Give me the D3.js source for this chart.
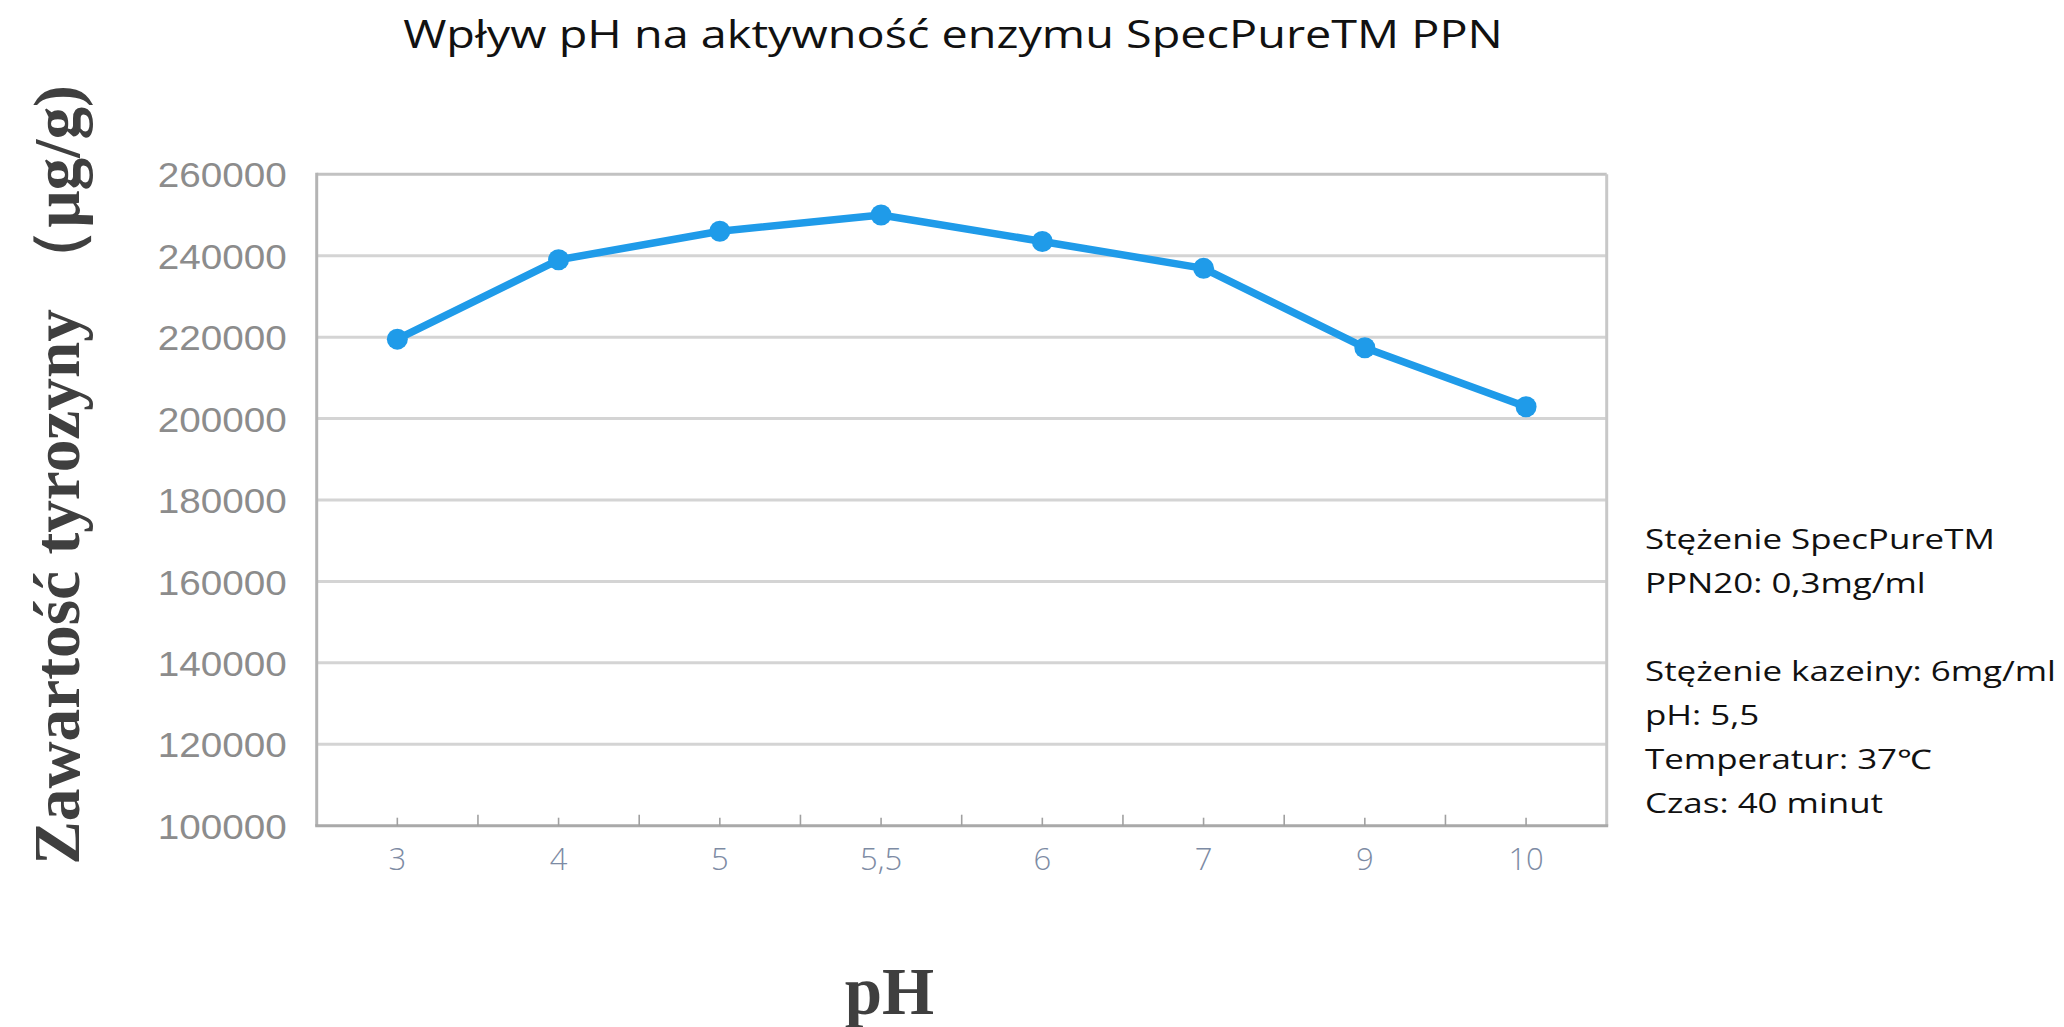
<!DOCTYPE html>
<html>
<head>
<meta charset="utf-8">
<script src="https://cdn.jsdelivr.net/npm/d3@7"></script>
<style>
  html, body { margin: 0; padding: 0; background: #ffffff; }
  svg { display: block; }
</style>
</head>
<body>
<svg id="chart" width="2064" height="1027"></svg>
<script>
// ---- data ----
const categories = ["3", "4", "5", "5,5", "6", "7", "9", "10"];
const values = [219500, 239000, 246000, 250000, 243500, 236900, 217400, 202900];
const yTicks = [100000, 120000, 140000, 160000, 180000, 200000, 220000, 240000, 260000];
const titleText = "Wpływ pH na aktywność enzymu SpecPureTM PPN";
const yTitleText = "Zawartość tyrozyny （μg/g)";
const xTitleText = "pH";
const noteLines = [
  "Stężenie SpecPureTM",
  "PPN20: 0,3mg/ml",
  "",
  "Stężenie kazeiny: 6mg/ml",
  "pH: 5,5",
  "Temperatur: 37℃",
  "Czas: 40 minut"
];

// ---- layout ----
const svg = d3.select("#chart");
const plot = { left: 316.7, right: 1606.7, top: 174.3, bottom: 825.7 };

const x = d3.scaleBand().domain(categories).range([plot.left, plot.right]).paddingInner(0).paddingOuter(0);
const xc = d => x(d) + x.bandwidth() / 2;
const y = d3.scaleLinear().domain([100000, 260000]).range([plot.bottom, plot.top]);

// gridlines
svg.append("g").selectAll("line").data(yTicks.filter(t => t > 100000 && t < 260000)).join("line")
  .attr("x1", plot.left).attr("x2", plot.right)
  .attr("y1", d => y(d)).attr("y2", d => y(d))
  .attr("stroke", "#d4d4d4").attr("stroke-width", 3);

// frame: top and right
svg.append("line").attr("x1", plot.left).attr("x2", plot.right).attr("y1", y(260000)).attr("y2", y(260000))
  .attr("stroke", "#c2c2c2").attr("stroke-width", 3);
svg.append("line").attr("x1", plot.right).attr("x2", plot.right).attr("y1", plot.top).attr("y2", plot.bottom)
  .attr("stroke", "#c8c8c8").attr("stroke-width", 3);
// left axis line
svg.append("line").attr("x1", plot.left).attr("x2", plot.left).attr("y1", plot.top - 1.5).attr("y2", plot.bottom)
  .attr("stroke", "#b4b4b4").attr("stroke-width", 3);

// y axis labels via d3 axis
const yAxis = svg.append("g").attr("transform", `translate(${plot.left - 30},0)`)
  .call(d3.axisLeft(y).tickValues(yTicks).tickSize(0).tickPadding(0).tickFormat(d3.format("d")));
yAxis.select(".domain").remove();
yAxis.selectAll("text")
  .attr("font-family", "'Liberation Sans', Arial, sans-serif")
  .attr("font-size", 35)
  .attr("fill", "#8c8c8c")
  .attr("dy", "0.36em")
  .attr("textLength", 129).attr("lengthAdjust", "spacingAndGlyphs");

// bottom axis line
svg.append("line").attr("x1", plot.left - 1.5).attr("x2", plot.right + 1.5).attr("y1", plot.bottom).attr("y2", plot.bottom)
  .attr("stroke", "#a9a9a9").attr("stroke-width", 3);

// ticks: short at category centres, taller at inner category boundaries
svg.append("g").selectAll("line").data(categories).join("line")
  .attr("x1", d => xc(d)).attr("x2", d => xc(d))
  .attr("y1", plot.bottom).attr("y2", plot.bottom - 8)
  .attr("stroke", "#a0a0a0").attr("stroke-width", 1.6);
svg.append("g").selectAll("line").data(categories.slice(1)).join("line")
  .attr("x1", d => x(d)).attr("x2", d => x(d))
  .attr("y1", plot.bottom).attr("y2", plot.bottom - 11)
  .attr("stroke", "#a0a0a0").attr("stroke-width", 1.6);

// x labels via d3 axis
const xAxis = svg.append("g").attr("transform", `translate(0,${plot.bottom})`)
  .call(d3.axisBottom(x).tickSize(0).tickPadding(0));
xAxis.select(".domain").remove();
xAxis.selectAll("text")
  .attr("y", 44).attr("dy", 0)
  .attr("font-family", "'Open Sans', sans-serif")
  .attr("font-weight", 300)
  .attr("font-size", 31)
  .attr("fill", "#7d8ba4");

// line + markers
const pts = categories.map((c, i) => ({ c, v: values[i] }));
svg.append("path").datum(pts)
  .attr("d", d3.line().x(d => xc(d.c)).y(d => y(d.v)))
  .attr("fill", "none").attr("stroke", "#1f9be9").attr("stroke-width", 7.5)
  .attr("stroke-linejoin", "round");
svg.append("g").selectAll("circle").data(pts).join("circle")
  .attr("cx", d => xc(d.c)).attr("cy", d => y(d.v)).attr("r", 10.5)
  .attr("fill", "#1f9be9");

// helper to stretch text horizontally to a target width
function fitWidth(sel, target) {
  const w = sel.node().getComputedTextLength();
  return target / w;
}

// title
const tg = svg.append("g");
const tt = tg.append("text").text(titleText)
  .attr("font-family", "'Open Sans', sans-serif").attr("font-size", 38.5)
  .attr("fill", "#111").attr("text-anchor", "middle");
const ts = fitWidth(tt, 1100);
tg.attr("transform", `translate(953,48.3) scale(${ts},1)`);

// y title (rotated)
const yg = svg.append("g");
const yt = yg.append("text").text(yTitleText)
  .attr("font-family", "'Liberation Serif', 'Times New Roman', serif")
  .attr("font-weight", "bold").attr("font-size", 65)
  .attr("fill", "#3f3f3f").attr("text-anchor", "middle");
const ys = fitWidth(yt, 780);
yg.attr("transform", `translate(79,475) rotate(-90) scale(${ys},1)`);

// x title
svg.append("text").text(xTitleText)
  .attr("x", 889.5).attr("y", 1014)
  .attr("font-family", "'Liberation Serif', 'Times New Roman', serif")
  .attr("font-weight", "bold").attr("font-size", 67)
  .attr("fill", "#3f3f3f").attr("text-anchor", "middle");

// notes
const ng = svg.append("g");
const nt = ng.selectAll("text").data(noteLines).join("text")
  .text(d => d)
  .attr("x", 0).attr("y", (d, i) => i * 44)
  .attr("font-family", "'Open Sans', sans-serif").attr("font-size", 27)
  .attr("fill", "#111");
const ns = fitWidth(nt.filter((d, i) => i === 3), 411);
ng.attr("transform", `translate(1645,549) scale(${ns},1)`);
</script>
</body>
</html>
